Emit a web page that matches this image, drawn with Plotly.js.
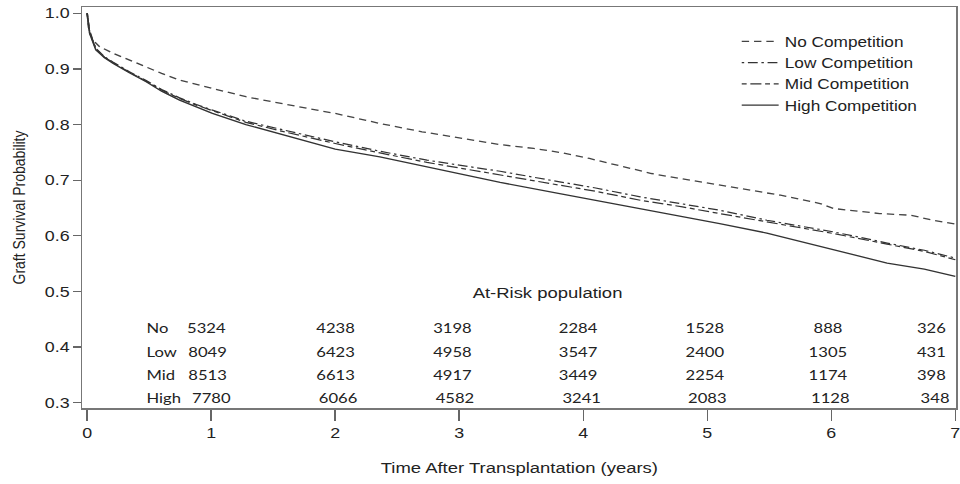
<!DOCTYPE html>
<html>
<head>
<meta charset="utf-8">
<script src="https://cdn.plot.ly/plotly-3.0.1.min.js"></script>
<style>
html,body{margin:0;padding:0;background:#fff;overflow:hidden;}
#wrap{width:960px;height:484px;overflow:hidden;}
#chart{width:786px;height:484px;transform:scaleX(1.230769);transform-origin:0 0;}
</style>
</head>
<body>
<div id="wrap"><div id="chart"></div></div>
<script>
// Kaplan-Meier style graft survival curves
const noX   = [0, 0.01, 0.045, 0.1, 0.21, 0.35, 0.476, 0.6, 0.745, 0.88, 1.01, 1.28, 1.55, 1.8, 2.0, 2.36, 2.7, 3.0, 3.33, 3.6, 3.81, 4.05, 4.3, 4.55, 4.78, 5.1, 5.35, 5.59, 5.91, 6.02, 6.39, 6.64, 6.82, 7.0];
const noY   = [1.0, 0.975, 0.952, 0.94, 0.928, 0.915, 0.904, 0.892, 0.880, 0.872, 0.865, 0.850, 0.838, 0.828, 0.820, 0.802, 0.787, 0.776, 0.764, 0.757, 0.750, 0.739, 0.725, 0.712, 0.703, 0.691, 0.682, 0.673, 0.658, 0.649, 0.640, 0.637, 0.628, 0.621];

const grpX  = [0, 0.01, 0.02, 0.07, 0.14, 0.21, 0.34, 0.476, 0.6, 0.745, 0.88, 1.01, 1.28, 1.55, 1.8, 2.0, 2.36, 2.74, 3.0, 3.33, 3.81, 4.1, 4.46, 4.8, 5.1, 5.48, 5.75, 6.02, 6.45, 6.75, 7.0];
const lowY  = [1.0, 0.975, 0.966, 0.937, 0.922, 0.912, 0.895, 0.879, 0.863, 0.848, 0.836, 0.826, 0.806, 0.792, 0.779, 0.769, 0.752, 0.736, 0.727, 0.716, 0.697, 0.686, 0.670, 0.657, 0.646, 0.628, 0.618, 0.607, 0.587, 0.574, 0.560];
const midY  = [1.0, 0.975, 0.965, 0.936, 0.921, 0.911, 0.894, 0.878, 0.862, 0.847, 0.835, 0.825, 0.804, 0.789, 0.776, 0.766, 0.749, 0.732, 0.722, 0.709, 0.691, 0.680, 0.664, 0.652, 0.640, 0.625, 0.615, 0.604, 0.585, 0.572, 0.557];
const highY = [1.0, 0.975, 0.964, 0.934, 0.920, 0.910, 0.893, 0.877, 0.860, 0.844, 0.832, 0.820, 0.800, 0.784, 0.768, 0.756, 0.742, 0.724, 0.712, 0.696, 0.676, 0.664, 0.649, 0.635, 0.622, 0.605, 0.590, 0.575, 0.551, 0.540, 0.527];

const seriesNames = ["No Competition", "Low Competition", "Mid Competition", "High Competition"];

// At-risk table
const riskRows   = ["No", "Low", "Mid", "High"];
const riskTimes  = [0, 1, 2, 3, 4, 5, 6];
const riskNo     = [5324, 4238, 3198, 2284, 1528, 888, 326];
const riskLow    = [8049, 6423, 4958, 3547, 2400, 1305, 431];
const riskMid    = [8513, 6613, 4917, 3449, 2254, 1174, 398];
const riskHigh   = [7780, 6066, 4582, 3241, 2083, 1128, 348];
const riskTitle  = "At-Risk population";

const lineCol = "#333333";
const traces = [
  {x: noX,  y: noY,   name: seriesNames[0], line: {color: "#444", width: 1.3, dash: "6px,4px"}},
  {x: grpX, y: lowY,  name: seriesNames[1], line: {color: lineCol, width: 1.2, dash: "2px,3px,8px,3px"}},
  {x: grpX, y: midY,  name: seriesNames[2], line: {color: lineCol, width: 1.2, dash: "4px,3px,9px,3px"}},
  {x: grpX, y: highY, name: seriesNames[3], line: {color: lineCol, width: 1.3}}
].map(t => Object.assign({type: "scatter", mode: "lines", hoverinfo: "skip"}, t));

const rowY = [0.4338, 0.3917, 0.3498, 0.3079];
const rowVals = [riskNo, riskLow, riskMid, riskHigh];
const colX = [null, 2.0, 2.94, 3.96, 4.974, 5.971, 6.814];
const firstNumX = [0.785, 0.793, 0.793, 0.825];
const tblFont = {family: "Lato, 'Open Sans', sans-serif", size: 13.5, color: "#222"};
const annotations = [];
annotations.push({x: 3.715, y: 0.499, xref: "x", yref: "y", text: riskTitle, showarrow: false,
  font: {family: "'Liberation Sans', Arial, sans-serif", size: 15, color: "#222"}});
riskRows.forEach((lab, r) => {
  annotations.push({x: 0.455, y: rowY[r], xref: "x", yref: "y", text: lab, showarrow: false,
    xanchor: "left", font: tblFont});
  annotations.push({x: firstNumX[r], y: rowY[r], xref: "x", yref: "y", text: String(rowVals[r][0]),
    showarrow: false, xanchor: "left", font: tblFont});
  for (let c = 1; c < riskTimes.length; c++) {
    annotations.push({x: colX[c], y: rowY[r], xref: "x", yref: "y", text: String(rowVals[r][c]),
      showarrow: false, xanchor: "center", xshift: r === 3 ? 2.4 : 0, font: tblFont});
  }
});

const axFont = {family: "'Liberation Sans', Arial, sans-serif", size: 14.5, color: "#222"};
const layout = {
  width: 786, height: 484,
  margin: {l: 67.4, r: 9.25, t: 7, b: 76},
  paper_bgcolor: "#fff", plot_bgcolor: "#fff",
  showlegend: true,
  legend: {x: 0.7474, y: 0.953, xanchor: "left", yanchor: "top", bgcolor: "rgba(0,0,0,0)",
    font: {family: "'Liberation Sans', Arial, sans-serif", size: 14, color: "#222"},
    tracegroupgap: 0, itemwidth: 30},
  xaxis: {range: [-0.038, 7.008], tickvals: [0,1,2,3,4,5,6,7], ticks: "outside", ticklen: 11,
    tickcolor: "#666", tickwidth: 1.2, showline: true, linecolor: "#777", linewidth: 1.5, mirror: true,
    showgrid: false, zeroline: false, tickfont: axFont, ticklabeloverflow: "allow",
    title: {text: "Time After Transplantation (years)", font: {family: "'Liberation Sans', Arial, sans-serif", size: 15, color: "#222"}, standoff: 22}},
  yaxis: {range: [0.2905, 1.0113], tickvals: [0.3,0.4,0.5,0.6,0.7,0.8,0.9,1.0],
    ticktext: ["0.3","0.4","0.5","0.6","0.7","0.8","0.9","1.0"], ticks: "outside", ticklen: 6,
    tickcolor: "#666", tickwidth: 1.2, showline: true, linecolor: "#777", linewidth: 1.5, mirror: true,
    showgrid: false, zeroline: false, tickfont: axFont,
    title: {text: "Graft Survival Probability", font: {family: "'Liberation Sans', Arial, sans-serif", size: 14, color: "#222"}, standoff: 12}},
  annotations: annotations
};

Plotly.newPlot("chart", traces, layout, {displayModeBar: false, staticPlot: true});
</script>
</body>
</html>
